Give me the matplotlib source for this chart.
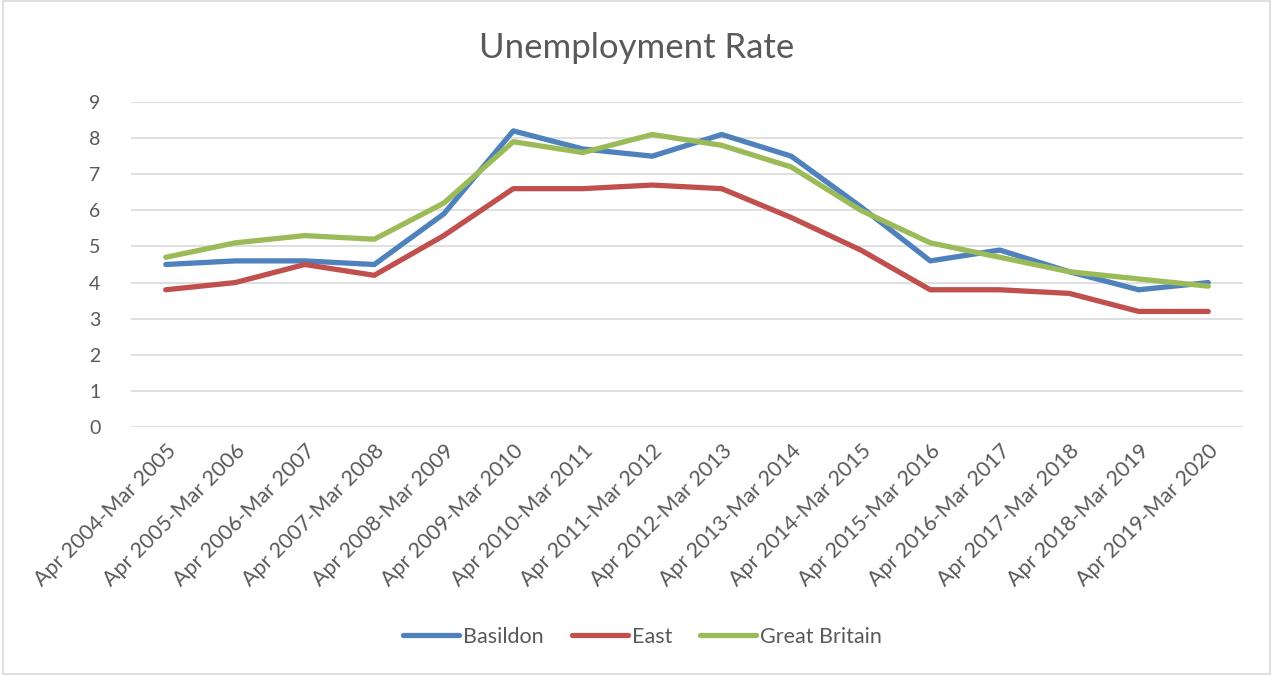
import matplotlib
matplotlib.use("Agg")
import matplotlib.pyplot as plt
from matplotlib.patches import Rectangle

categories = ["Apr 2004-Mar 2005", "Apr 2005-Mar 2006", "Apr 2006-Mar 2007", "Apr 2007-Mar 2008",
              "Apr 2008-Mar 2009", "Apr 2009-Mar 2010", "Apr 2010-Mar 2011", "Apr 2011-Mar 2012",
              "Apr 2012-Mar 2013", "Apr 2013-Mar 2014", "Apr 2014-Mar 2015", "Apr 2015-Mar 2016",
              "Apr 2016-Mar 2017", "Apr 2017-Mar 2018", "Apr 2018-Mar 2019", "Apr 2019-Mar 2020"]
basildon = [4.5, 4.6, 4.6, 4.5, 5.9, 8.2, 7.7, 7.5, 8.1, 7.5, 6.1, 4.6, 4.9, 4.3, 3.8, 4.0]
east = [3.8, 4.0, 4.5, 4.2, 5.3, 6.6, 6.6, 6.7, 6.6, 5.8, 4.9, 3.8, 3.8, 3.7, 3.2, 3.2]
great_britain = [4.7, 5.1, 5.3, 5.2, 6.2, 7.9, 7.6, 8.1, 7.8, 7.2, 6.0, 5.1, 4.7, 4.3, 4.1, 3.9]
yticks = list(range(0, 10))

plt.rcParams['font.family'] = ['Lato', 'DejaVu Sans']
txt = '#595959'

fig = plt.figure(figsize=(12.73, 6.75), dpi=100)
fig.patches.append(Rectangle((0.002, 0.002), 0.996, 0.996, transform=fig.transFigure,
                             fill=False, edgecolor='#d9d9d9', linewidth=1.2))
ax = fig.add_axes([131/1273, 1-427/675, (1243-131)/1273, (427-102)/675])

x = list(range(len(categories)))
ax.plot(x, basildon, color='#4F81BD', lw=3.8, solid_capstyle='round', solid_joinstyle='round', label='Basildon', zorder=3)
ax.plot(x, east, color='#C0504D', lw=3.8, solid_capstyle='round', solid_joinstyle='round', label='East', zorder=3)
ax.plot(x, great_britain, color='#9BBB59', lw=3.8, solid_capstyle='round', solid_joinstyle='round', label='Great Britain', zorder=3)

ax.set_xlim(-0.5, len(categories) - 0.5)
ax.set_ylim(0, 9)
ax.set_yticks(yticks)
ax.set_yticklabels([str(v) for v in yticks], fontsize=14, color=txt)
ax.set_xticks(x)
ax.set_xticklabels(categories, rotation=45, ha='right', rotation_mode='anchor', fontsize=15.5, color=txt)
ax.tick_params(axis='x', length=0, pad=10)
ax.tick_params(axis='y', length=0, pad=22)
for s in ax.spines.values():
    s.set_visible(False)
ax.grid(axis='y', color='#d9d9d9', lw=1.2)
ax.set_axisbelow(True)

fig.text(0.5, 1-48/675, 'Unemployment Rate', ha='center', va='center', fontsize=25, color=txt)

leg = fig.legend(loc='center', bbox_to_anchor=(0.5 + 6/1273, 1-637/675), ncol=3, frameon=False,
                 fontsize=15.5, handlelength=2.6, handletextpad=0.2, columnspacing=1.3)
for t in leg.get_texts():
    t.set_color(txt)

fig.savefig('out.png', dpi=100)
